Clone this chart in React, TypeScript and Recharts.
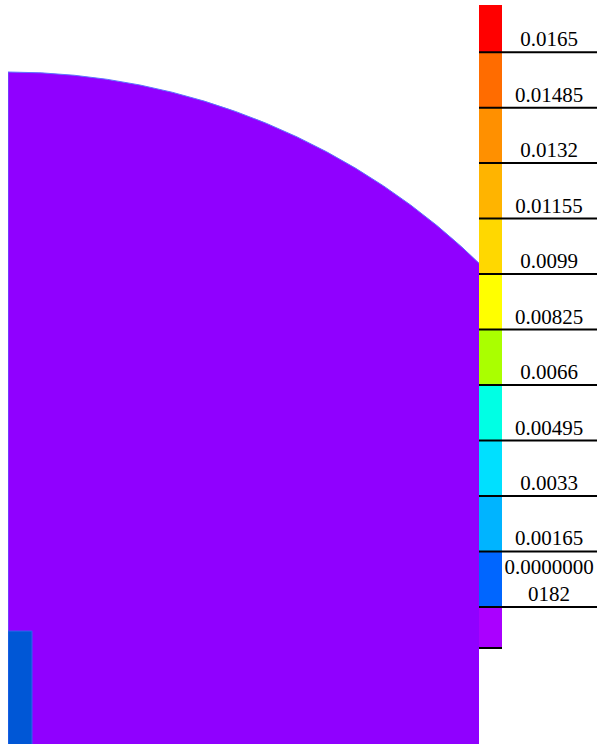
import React from 'react';
import { ComposedChart, XAxis, YAxis, ReferenceArea, ReferenceLine } from 'recharts';

// contour levels shown on the colour bar, bottom to top
const levelLabels = [
  ['0.0000000', '0182'],
  ['0.00165'],
  ['0.0033'],
  ['0.00495'],
  ['0.0066'],
  ['0.00825'],
  ['0.0099'],
  ['0.01155'],
  ['0.0132'],
  ['0.01485'],
  ['0.0165'],
];

// one colour per band, bottom band first (below the first level) to top band (above the last)
const bandColors = [
  '#aa00ff', '#0066ff', '#00b4ff', '#00e0ff', '#00ffe4', '#aaff00',
  '#ffff00', '#ffd800', '#ffb400', '#ff9000', '#ff6c00', '#ff0000',
];

// geometry of the field, in units of the outer radius
const fieldRadius = 1;
const electrodeWidth = 0.0355;
const electrodeHeight = 0.173;

// colour bar extent, in level steps (the end bands are drawn shorter)
const barMin = -0.74;
const barMax = 10.85;

const FIELD_COLOR = '#9000ff';
const ELECTRODE_COLOR = '#0057d6';
const FONT = '"Liberation Serif", "Times New Roman", serif';

// layout
const PX_PER_UNIT = 676;
const FIELD_W = 471;
const FIELD_H = 744;
const CENTER_Y = 748;

const QuarterDisk = (p: any) => {
  const { x, y, width, height } = p;
  const cy = y + height;
  const d = `M${x},${cy} L${x},${y} A${width},${height} 0 0 1 ${x + width},${cy} Z`;
  return <path d={d} fill={FIELD_COLOR} stroke="#5d74ff" strokeWidth={1} />;
};

const LevelMark = ({ x1, y1, lines }: any) => {
  const cx = x1 + 70;
  return (
    <g>
      <line x1={x1} y1={y1} x2={x1 + 118} y2={y1} stroke="#000" strokeWidth={2} />
      <text textAnchor="middle" fontSize={21} fontFamily={FONT} fill="#000">
        {lines.map((t: string, i: number) => (
          <tspan key={i} x={cx} y={y1 - 6 - (lines.length - 1 - i) * 27}>{t}</tspan>
        ))}
      </text>
    </g>
  );
};

export default function App() {
  const bands = bandColors.map((color, i) => ({
    color,
    lo: i === 0 ? barMin : i - 1,
    hi: i === bandColors.length - 1 ? barMax : i,
  }));

  return (
    <div style={{ position: 'fixed', left: 0, top: 0, width: 599, height: 744, background: '#fff', overflow: 'hidden' }}>
      <div style={{ position: 'absolute', left: 8, top: 0, width: FIELD_W, height: FIELD_H, overflow: 'hidden' }}>
        <ComposedChart width={FIELD_W} height={FIELD_H} margin={{ top: 0, right: 0, bottom: 0, left: 0 }}>
          <XAxis type="number" dataKey="x" domain={[0, FIELD_W / PX_PER_UNIT]} allowDataOverflow hide />
          <YAxis type="number" dataKey="y" domain={[(CENTER_Y - FIELD_H) / PX_PER_UNIT, CENTER_Y / PX_PER_UNIT]} allowDataOverflow hide />
          <ReferenceArea x1={0} x2={fieldRadius} y1={0} y2={fieldRadius} ifOverflow="visible" shape={QuarterDisk} />
          <ReferenceArea x1={0} x2={electrodeWidth} y1={0} y2={electrodeHeight} ifOverflow="visible"
            fill={ELECTRODE_COLOR} fillOpacity={1} stroke="#2f66ee" strokeWidth={1} />
        </ComposedChart>
      </div>
      <div style={{ position: 'absolute', left: 479, top: 0, width: 120, height: 744 }}>
        <ComposedChart width={120} height={744} margin={{ top: 5, right: 97, bottom: 96, left: 0 }}>
          <XAxis type="number" dataKey="x" domain={[0, 1]} allowDataOverflow hide />
          <YAxis type="number" dataKey="y" domain={[barMin, barMax]} allowDataOverflow hide />
          {bands.map((b, i) => (
            <ReferenceArea key={`band-${i}`} x1={0} x2={1} y1={b.lo} y2={b.hi} ifOverflow="visible"
              fill={b.color} fillOpacity={1} stroke="none" />
          ))}
          {levelLabels.map((lines, i) => (
            <ReferenceLine key={`lvl-${i}`} y={i} ifOverflow="visible"
              shape={(p: any) => <LevelMark {...p} lines={lines} />} />
          ))}
          <ReferenceLine y={barMin} ifOverflow="visible" stroke="#000" strokeWidth={2} />
        </ComposedChart>
      </div>
    </div>
  );
}
